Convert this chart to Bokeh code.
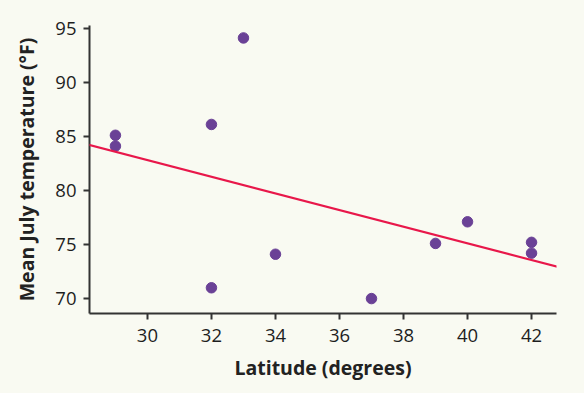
from bokeh.plotting import figure
from bokeh.models import Slope, FixedTicker, Range1d
from bokeh.embed import file_html
from bokeh.resources import INLINE

latitude = [29, 29, 32, 32, 33, 34, 37, 39, 40, 42, 42]
july_temp = [85.1, 84.1, 86.1, 71.0, 94.1, 74.1, 70.0, 75.1, 77.1, 75.2, 74.2]
fit_slope = -0.77
fit_intercept = 105.9
x_ticks = [30, 32, 34, 36, 38, 40, 42]
y_ticks = [70, 75, 80, 85, 90, 95]

BG = "#f9faf2"
FONT = "Open Sans"

p = figure(width=584, height=393, output_backend="svg", toolbar_location=None,
           x_range=Range1d(28.19, 42.78), y_range=Range1d(68.62, 95.25),
           background_fill_color=BG, border_fill_color=BG, outline_line_color=None,
           min_border_left=89, min_border_right=28, min_border_top=25, min_border_bottom=80)
p.grid.visible = False

p.add_layout(Slope(gradient=fit_slope, y_intercept=fit_intercept,
                   line_color="#e8174a", line_width=2.2))
p.scatter(latitude, july_temp, size=10.5, color="#6a4196")

for ax in (p.xaxis[0], p.yaxis[0]):
    ax.axis_line_color = "#333333"
    ax.axis_line_width = 2
    ax.major_tick_line_color = "#333333"
    ax.major_tick_line_width = 2
    ax.major_tick_out = 6
    ax.major_tick_in = 0
    ax.minor_tick_line_color = None
    ax.major_label_text_font = FONT
    ax.major_label_text_font_size = "18.5px"
    ax.major_label_text_color = "#1e1e1e"
    ax.axis_label_text_font = FONT
    ax.axis_label_text_font_size = "19.5px"
    ax.axis_label_text_font_style = "bold"
    ax.axis_label_text_color = "#222222"

p.xaxis.ticker = FixedTicker(ticks=x_ticks)
p.yaxis.ticker = FixedTicker(ticks=y_ticks)
p.xaxis.axis_label = "Latitude (degrees)"
p.yaxis.axis_label = "Mean July temperature (°F)"
p.xaxis.major_label_standoff = 9
p.yaxis.major_label_standoff = 7
p.xaxis.axis_label_standoff = 9
p.yaxis.axis_label_standoff = 12

html = file_html(p, INLINE)
html = html.replace("<body>", '<body style="margin:0;background:%s">' % BG, 1)
html = html.replace("<html", '<html style="background:%s"' % BG, 1)
open("out.html", "w").write(html)
